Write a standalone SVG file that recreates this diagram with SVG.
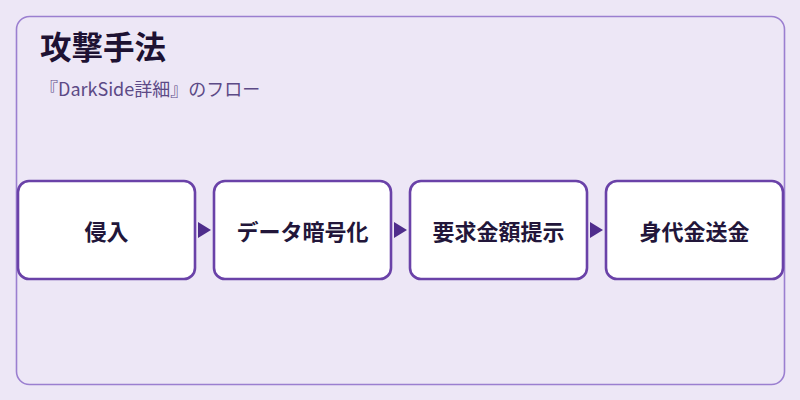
<svg xmlns="http://www.w3.org/2000/svg" width="800" height="400" viewBox="0 0 800 400">
<style>
.frame{fill:#ede7f6;stroke:#9b7fd0;stroke-width:1.6}
.box{fill:#ffffff;stroke:#6a42a8;stroke-width:2.6}
.lbl{font-family:"Noto Sans CJK JP","Noto Sans",sans-serif;font-weight:700;font-size:22px;fill:#22163a;text-anchor:middle;dominant-baseline:central}
.title{font-family:"Noto Sans CJK JP","Noto Sans",sans-serif;font-weight:700;font-size:31.5px;fill:#1e1233}
.sub{font-family:"Noto Sans CJK JP","Noto Sans",sans-serif;font-size:18px;fill:#5c4a86}
.conn{fill:none;stroke:#4f2d8c;stroke-width:0}
</style>
<defs>
<marker id="ah" markerUnits="userSpaceOnUse" markerWidth="14" markerHeight="18" refX="0" refY="8" orient="auto">
<path d="M0,0 L13,8 L0,16 Z" fill="#4f2d8c"/>
</marker>
</defs>
<rect width="800" height="400" fill="#ede7f6"/>
<rect class="frame" x="16.5" y="16.5" width="768" height="368" rx="13"/>
<text class="title" x="40" y="59">攻撃手法</text>
<text class="sub" x="40" y="96">『DarkSide詳細』のフロー</text>
<g id="connectors">
<path class="conn" d="M197,230 L198,230" marker-end="url(#ah)"/>
<path class="conn" d="M393,230 L394,230" marker-end="url(#ah)"/>
<path class="conn" d="M589,230 L590,230" marker-end="url(#ah)"/>
</g>
<g id="node1"><rect class="box" x="18" y="181" width="177" height="98" rx="11"/><text class="lbl" x="106.5" y="230">侵入</text></g>
<g id="node2"><rect class="box" x="214" y="181" width="177" height="98" rx="11"/><text class="lbl" x="302.5" y="230">データ暗号化</text></g>
<g id="node3"><rect class="box" x="410" y="181" width="177" height="98" rx="11"/><text class="lbl" x="498.5" y="230">要求金額提示</text></g>
<g id="node4"><rect class="box" x="606" y="181" width="177" height="98" rx="11"/><text class="lbl" x="694.5" y="230">身代金送金</text></g>
</svg>
